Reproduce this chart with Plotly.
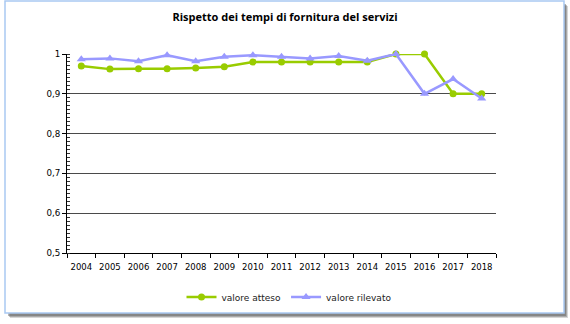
import plotly.graph_objects as go

# Anni e valori della serie
anni = ["2004", "2005", "2006", "2007", "2008", "2009", "2010", "2011",
        "2012", "2013", "2014", "2015", "2016", "2017", "2018"]
valore_atteso = [0.970, 0.962, 0.963, 0.963, 0.965, 0.968, 0.980, 0.980,
                 0.980, 0.980, 0.980, 1.000, 1.000, 0.900, 0.900]
valore_rilevato = [0.987, 0.989, 0.982, 0.997, 0.982, 0.993, 0.997, 0.993,
                   0.989, 0.995, 0.983, 1.000, 0.900, 0.937, 0.888]
y_min, y_max, y_step = 0.5, 1.0, 0.1

W, H = 570, 324
ML, MR, MT, MB = 67, 74, 54, 71
PW, PH = W - ML - MR, H - MT - MB


def px_x(p):
    return (p - ML) / PW


def px_y(p):
    return (H - MB - p) / PH


VERDE = "#99CC00"
BLU = "#9999FF"
FONT = "DejaVu Sans"

fig = go.Figure()
fig.add_trace(go.Scatter(
    x=anni, y=valore_atteso, name="valore atteso", mode="lines+markers",
    line=dict(color=VERDE, width=2.5),
    marker=dict(symbol="circle", size=7, color=VERDE),
    cliponaxis=False,
))
fig.add_trace(go.Scatter(
    x=anni, y=valore_rilevato, name="valore rilevato", mode="lines+markers",
    line=dict(color=BLU, width=2.5),
    marker=dict(symbol="triangle-up", size=8, color=BLU),
    cliponaxis=False,
))

shapes = []
# ombra della cornice
for off, op in [(5, 0.25), (4, 0.35), (3, 0.45)]:
    shapes.append(dict(
        type="rect", xref="paper", yref="paper", layer="below",
        x0=px_x(5 + off), x1=px_x(564 + off - 1),
        y0=px_y(313 + off), y1=px_y(1 + off),
        fillcolor=f"rgba(90,90,90,{op})", line=dict(width=0),
    ))
# cornice del grafico
shapes.append(dict(
    type="rect", xref="paper", yref="paper", layer="below",
    x0=px_x(5), x1=px_x(564), y0=px_y(313), y1=px_y(1),
    fillcolor="white", line=dict(color="#A9C9F2", width=1.5),
))

fig.update_layout(
    width=W, height=H,
    margin=dict(l=ML, r=MR, t=MT, b=MB),
    paper_bgcolor="white",
    plot_bgcolor="rgba(0,0,0,0)",
    separators=",.",
    shapes=shapes,
    title=dict(
        text="<b>Rispetto dei tempi di fornitura del servizi</b>",
        x=px_x(285), xref="paper", xanchor="center",
        y=1 - 17 / H, yanchor="middle",
        font=dict(family="Open Sans", size=11, color="black"),
    ),
    font=dict(family=FONT, size=9, color="black"),
    showlegend=True,
    legend=dict(
        orientation="h", x=px_x(289), xanchor="center",
        y=px_y(297), yanchor="middle",
        font=dict(family=FONT, size=9, color="#222222"),
        bgcolor="rgba(0,0,0,0)",
    ),
    xaxis=dict(
        type="category", categoryorder="array", categoryarray=anni,
        tickson="boundaries", ticks="outside", ticklen=4, tickangle=0,
        ticklabelstandoff=6,
        tickcolor="black", showline=True, linecolor="black", linewidth=1,
        showgrid=False, tickfont=dict(family=FONT, size=8.5),
        range=[-0.5, len(anni) - 0.5],
    ),
    yaxis=dict(
        range=[y_min, y_max], tickmode="linear", tick0=y_min, dtick=y_step,
        ticks="outside", ticklen=4,
        tickcolor="black", showline=True, linecolor="black", linewidth=1,
        showgrid=True, gridcolor="#4a4a4a", gridwidth=1,
        zeroline=False, tickfont=dict(family=FONT, size=8.7),
        minor=dict(ticks="inside", dtick=y_step / 10, tick0=y_min, ticklen=3,
                   tickcolor="#333333", tickwidth=1, showgrid=False),
    ),
)

fig.write_html("out.html")
